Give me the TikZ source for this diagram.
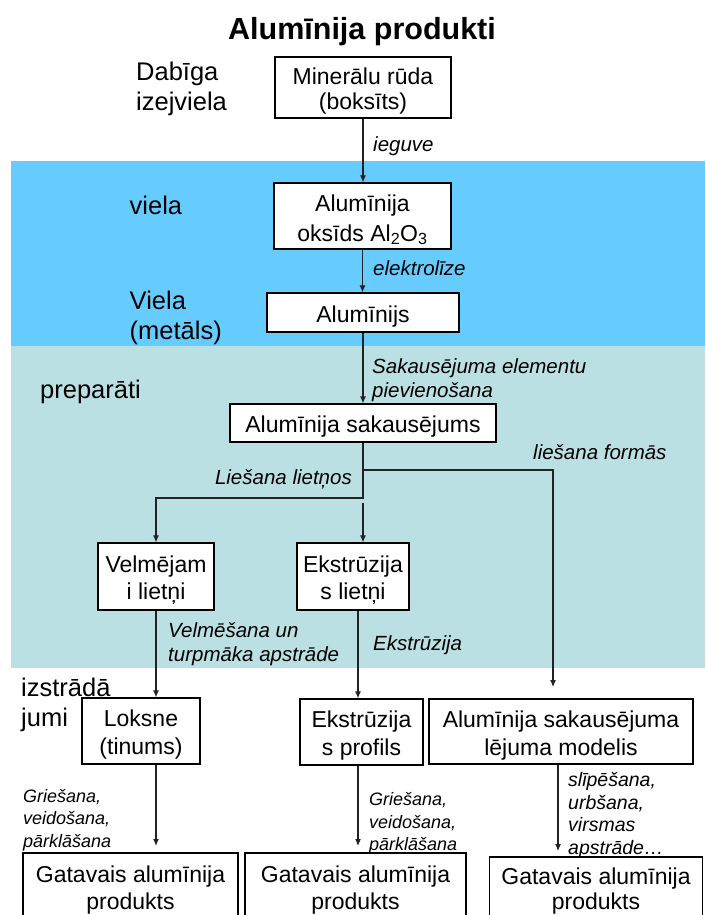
\documentclass[tikz,border=0pt]{standalone}
\usepackage{fontspec}
\setmainfont{Liberation Sans}
\usetikzlibrary{arrows.meta}

\definecolor{bandblue}{RGB}{102,204,255}
\definecolor{bandteal}{RGB}{187,224,227}
\definecolor{linegray}{RGB}{34,34,34}

\newcommand\bxfont{\fontsize{23}{26}\selectfont}
\newcommand\sdfont{\fontsize{25.5}{30}\selectfont}
\newcommand\lbfont{\fontsize{20.5}{23.5}\itshape\selectfont}
\newcommand\smfont{\fontsize{18}{22.5}\itshape\selectfont}
\newcommand\rsfont{\fontsize{19.5}{22.5}\itshape\selectfont}
% uniform first-line height so box texts sit at the same level
\newcommand\topstrut{\rule{0pt}{24pt}}

\tikzset{
  box/.style={draw=black, line width=1.2pt, fill=white, align=center, inner sep=0pt, font=\bxfont},
  side/.style={align=left, inner sep=0pt, anchor=west, font=\sdfont},
  lab/.style={align=left, inner sep=0pt, anchor=west, font=\lbfont},
  smlab/.style={align=left, inner sep=0pt, anchor=west, font=\smfont},
  rslab/.style={align=left, inner sep=0pt, anchor=west, font=\rsfont},
  arr/.style={draw=linegray, line width=1.1pt, -{Latex[length=7pt,width=6pt]}},
  heading/.style={inner sep=0pt, font=\fontsize{30.5}{34}\bfseries\selectfont},
}

\begin{document}
\begin{tikzpicture}[x=1pt,y=-1pt]
\useasboundingbox (0,0) rectangle (705,915);
\clip (0,0) rectangle (705,915);

% stage bands
\fill[bandblue] (11,161) rectangle (705,346);
\fill[bandteal] (11,346) rectangle (705,668);

\node[heading] (title) at (362,32) {Alumīnija produkti};

% stage names
\node[side] (s1) at (136,89) {Dabīga\\izejviela};
\node[side] (s2) at (129.5,205) {viela};
\node[side] (s3) at (129.5,318) {Viela\\(metāls)};
\node[side] (s4) at (40,392) {preparāti};
\node[side] (s5) at (21,705) {izstrādā\\jumi};

% process boxes
\node[box, minimum width=176pt, minimum height=61pt, font=\fontsize{23}{25}\selectfont] (ore) at (363,87.5) {\topstrut Minerālu rūda\\(boksīts)};
\node[box, minimum width=177pt, minimum height=66pt, font=\fontsize{23}{30}\selectfont] (oxide) at (362.5,216) {\topstrut Alumīnija\\oksīds Al\textsubscript{2}O\textsubscript{3}};
\node[box, minimum width=192pt, minimum height=39pt] (alu) at (363,312.5) {\topstrut Alumīnijs};
\node[box, minimum width=266pt, minimum height=38pt] (alloy) at (363,423) {\topstrut Alumīnija sakausējums};
\node[box, minimum width=116pt, minimum height=67pt, font=\fontsize{23}{27.5}\selectfont] (rolling) at (156,576.5) {\topstrut Velmējam\\i lietņi};
\node[box, minimum width=112pt, minimum height=67pt, font=\fontsize{23}{27.5}\selectfont] (extr) at (353,576.5) {\topstrut Ekstrūzija\\s lietņi};
\node[box, minimum width=118pt, minimum height=66pt, font=\fontsize{23}{28}\selectfont] (sheet) at (141,731) {\topstrut Loksne\\(tinums)};
\node[box, minimum width=123pt, minimum height=66pt, font=\fontsize{23}{28}\selectfont] (profile) at (361.5,732) {\topstrut Ekstrūzija\\s profils};
\node[box, minimum width=264pt, minimum height=65pt, font=\fontsize{23}{28}\selectfont] (model) at (561,731.5) {\topstrut Alumīnija sakausējuma\\lējuma modelis};
\node[box, minimum width=215pt, minimum height=67pt, font=\fontsize{23}{27}\selectfont] (prod1) at (130.5,886.5) {\topstrut Gatavais alumīnija\\produkts};
\node[box, minimum width=221pt, minimum height=67pt, font=\fontsize{23}{27}\selectfont] (prod2) at (355.5,886.5) {\topstrut Gatavais alumīnija\\produkts};
\node[box, minimum width=213pt, minimum height=61pt, font=\fontsize{23}{25}\selectfont] (prod3) at (596,887.5) {\topstrut Gatavais alumīnija\\produkts};

% junction and free ends
\coordinate (jcast) at (363,470);
\coordinate (jroll) at (363,498);
\coordinate (jextr) at (363,503);
\coordinate (castend) at (553,687);
\coordinate (sheetend) at (156,846);
\coordinate (profend) at (358,846);
\coordinate (modelend) at (558,851);

% connectors
\draw[arr] (ore.south) -- (ore.south |- oxide.north);
\draw[arr] (oxide.south) -- (oxide.south |- alu.north);
\draw[arr] (alu.south) -- (alu.south |- alloy.north);
\draw[arr] (alloy.south) |- (rolling.north |- jroll) -- (rolling.north);
\draw[arr] (jcast) -| (castend);
\draw[arr] (jextr) -- (jextr |- extr.north);
\draw[arr] (rolling.south) -- (rolling.south |- sheet.north);
\draw[arr] ([xshift=5pt]extr.south) -- ([xshift=5pt]extr.south |- profile.north);
\draw[arr] (sheet.south -| sheetend) -- (sheetend);
\draw[arr] (profile.south -| profend) -- (profend);
\draw[arr] (model.south -| modelend) -- (modelend);

% process labels
\node[lab] (l1) at (373,146) {ieguve};
\node[lab] (l2) at (373,268) {elektrolīze};
\node[lab] (l3) at (372,380) {Sakausējuma elementu\\pievienošana};
\node[lab, anchor=east] (l4) at (352,479) {Liešana lietņos};
\node[lab] (l5) at (533,452) {liešana formās};
\node[lab] (l6) at (168,644) {Velmēšana un\\turpmāka apstrāde};
\node[lab] (l7) at (373,645) {Ekstrūzija};
\node[smlab] (l8) at (23,820) {Griešana,\\veidošana,\\pārklāšana};
\node[smlab] (l9) at (369,823.5) {Griešana,\\veidošana,\\pārklāšana};
\node[rslab] (l10) at (568,815.5) {slīpēšana,\\urbšana,\\virsmas\\apstrāde…};
\end{tikzpicture}
\end{document}
